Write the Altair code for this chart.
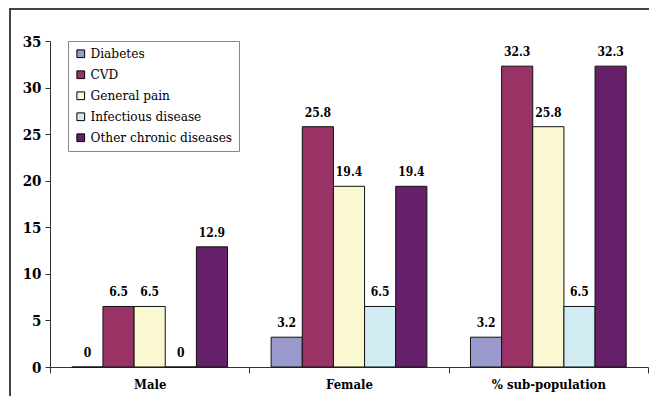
import altair as alt
import pandas as pd

groups = ["Male", "Female", "% sub-population"]
series = ["Diabetes", "CVD", "General pain", "Infectious disease", "Other chronic diseases"]
male = [0, 6.5, 6.5, 0, 12.9]
female = [3.2, 25.8, 19.4, 6.5, 19.4]
subpop = [3.2, 32.3, 25.8, 6.5, 32.3]
colors = ["#9999CC", "#993366", "#FAF8D0", "#D0EBF2", "#66206A"]
y_ticks = [0, 5, 10, 15, 20, 25, 30, 35]

rows = []
for g, vals in zip(groups, [male, female, subpop]):
    for s, v in zip(series, vals):
        rows.append({"group": g, "series": s, "value": v})
df = pd.DataFrame(rows)

FONT = "DejaVu Serif Condensed, DejaVu Serif, serif"

base = alt.Chart(df).encode(
    x=alt.X(
        "group:N", sort=groups, title=None,
        scale=alt.Scale(paddingInner=0, paddingOuter=0),
        axis=alt.Axis(labelAngle=0, labelFont=FONT, labelFontWeight="bold",
                      labelFontSize=13, labelColor="black", tickBand="extent",
                      tickSize=6, domainColor="#333", tickColor="#333",
                      labelPadding=5),
    ),
    xOffset=alt.XOffset("series:N", sort=series,
                        scale=alt.Scale(paddingInner=0, paddingOuter=0.7)),
)

bars = base.mark_bar(stroke="#111", strokeWidth=1).encode(
    y=alt.Y("value:Q", title=None, scale=alt.Scale(domain=[0, 35]),
            axis=alt.Axis(values=y_ticks, grid=False, labelFont=FONT,
                          labelFontWeight="bold", labelFontSize=15,
                          labelColor="black", tickSize=5, domainColor="#333",
                          tickColor="#333", labelPadding=4)),
    color=alt.Color("series:N", sort=series,
                    scale=alt.Scale(domain=series, range=colors),
                    legend=alt.Legend(title=None, orient="none", legendX=18,
                                      legendY=0, symbolType="square",
                                      symbolSize=60, symbolStrokeColor="black",
                                      symbolStrokeWidth=1, labelFont=FONT,
                                      labelFontSize=13.5, labelColor="black",
                                      labelLimit=0,
                                      fillColor="white", strokeColor="#888",
                                      padding=6, rowPadding=6, labelOffset=3)),
)

labels = base.mark_text(font=FONT, fontWeight="bold", fontSize=12, dy=-14,
                        baseline="middle", color="black").encode(
    y="value:Q",
    text=alt.Text("value:Q", format=".1~f"),
)

frame_df = pd.DataFrame({"a": [0]})
top = alt.Chart(frame_df).mark_rule(color="#444", strokeWidth=2).encode(
    x=alt.value(-40), x2=alt.value(599), y=alt.value(-32))
left = alt.Chart(frame_df).mark_rule(color="#444", strokeWidth=2).encode(
    x=alt.value(-40), y=alt.value(-33), y2=alt.value(356))

chart = alt.layer(bars, labels, top, left).properties(
    width=598, height=326,
    autosize=alt.AutoSizeParams(type="none"),
    padding={"left": 42, "top": 33, "right": 1, "bottom": 29},
    background="white",
).configure_view(stroke=None)

chart.save("out.html", embed_options={"renderer": "svg", "actions": False})
